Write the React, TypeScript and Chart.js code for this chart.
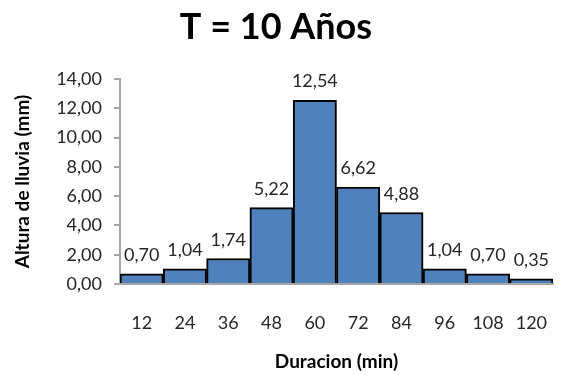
import React, { useEffect, useRef } from "react";
import { Chart, registerables } from "chart.js";

Chart.register(...registerables);

const categories = ["12", "24", "36", "48", "60", "72", "84", "96", "108", "120"];
const rainfall = [0.7, 1.04, 1.74, 5.22, 12.54, 6.62, 4.88, 1.04, 0.7, 0.35];
const titleText = "T = 10 Años";
const xTitle = "Duracion (min)";
const yTitle = "Altura de lluvia (mm)";

const FONT = "Lato, 'Open Sans', sans-serif";

const fmt = (v: number) => v.toFixed(2).replace(".", ",");

const labelPlugin = {
  id: "barLabels",
  afterDatasetsDraw(chart: any) {
    const ctx = chart.ctx;
    const meta = chart.getDatasetMeta(0);
    ctx.save();
    ctx.font = `18px ${FONT}`;
    ctx.fillStyle = "#262626";
    ctx.textAlign = "center";
    ctx.textBaseline = "alphabetic";
    meta.data.forEach((bar: any, i: number) => {
      ctx.fillText(fmt(rainfall[i]), bar.x, bar.y - 13);
    });
    ctx.restore();
  },
};

const titlePlugin = {
  id: "mainTitle",
  afterDraw(chart: any) {
    const ctx = chart.ctx;
    ctx.save();
    ctx.font = `bold 36px ${FONT}`;
    ctx.fillStyle = "#000000";
    ctx.textAlign = "center";
    ctx.textBaseline = "middle";
    ctx.fillText(titleText, 276, 27);
    ctx.restore();
  },
};

export default function App() {
  const ref = useRef<HTMLCanvasElement>(null);
  useEffect(() => {
    const chart = new Chart(ref.current!, {
      type: "bar",
      data: {
        labels: categories,
        datasets: [
          {
            data: rainfall,
            backgroundColor: "#4F81BD",
            borderColor: "#000000",
            borderWidth: 2,
            barPercentage: 1,
            categoryPercentage: 1,
          },
        ],
      },
      options: {
        animation: false,
        responsive: false,
        maintainAspectRatio: false,
        layout: { padding: { left: 0, right: 16, top: 79, bottom: 0 } },
        plugins: {
          legend: { display: false },
          tooltip: { enabled: false },
          title: { display: false },
        },
        scales: {
          x: {
            grid: { display: true, drawOnChartArea: false, drawTicks: true, tickLength: 24, color: "rgba(0,0,0,0)" },
            border: { display: true, color: "#a6a6a6", width: 2 },
            ticks: { color: "#262626", font: { family: FONT, size: 18 }, padding: 4, maxRotation: 0 },
            title: {
              display: true,
              text: xTitle,
              color: "#000000",
              font: { family: FONT, size: 19, weight: "bold" },
              padding: { top: 0, bottom: 2 },
            },
            afterFit: (s: any) => {
              s.height = 91;
            },
          },
          y: {
            min: 0,
            max: 14,
            ticks: {
              stepSize: 2,
              color: "#262626",
              font: { family: FONT, size: 18 },
              padding: 12,
              callback: (v: any) => fmt(Number(v)),
            },
            grid: { display: true, drawOnChartArea: false, drawTicks: true, tickLength: 6, color: "#a6a6a6", lineWidth: 2 },
            border: { display: true, color: "#a6a6a6", width: 2 },
            title: {
              display: true,
              text: yTitle,
              color: "#000000",
              font: { family: FONT, size: 19, weight: "bold" },
              padding: { top: 11, bottom: 0 },
            },
            afterFit: (s: any) => {
              s.width = 120;
            },
          },
        },
      },
      plugins: [labelPlugin, titlePlugin],
    });
    return () => chart.destroy();
  }, []);
  return (
    <div style={{ position: "fixed", left: 0, top: 0, width: 569, height: 375, background: "#fff" }}>
      <canvas ref={ref} width={569} height={375} style={{ width: 569, height: 375 }} />
    </div>
  );
}
